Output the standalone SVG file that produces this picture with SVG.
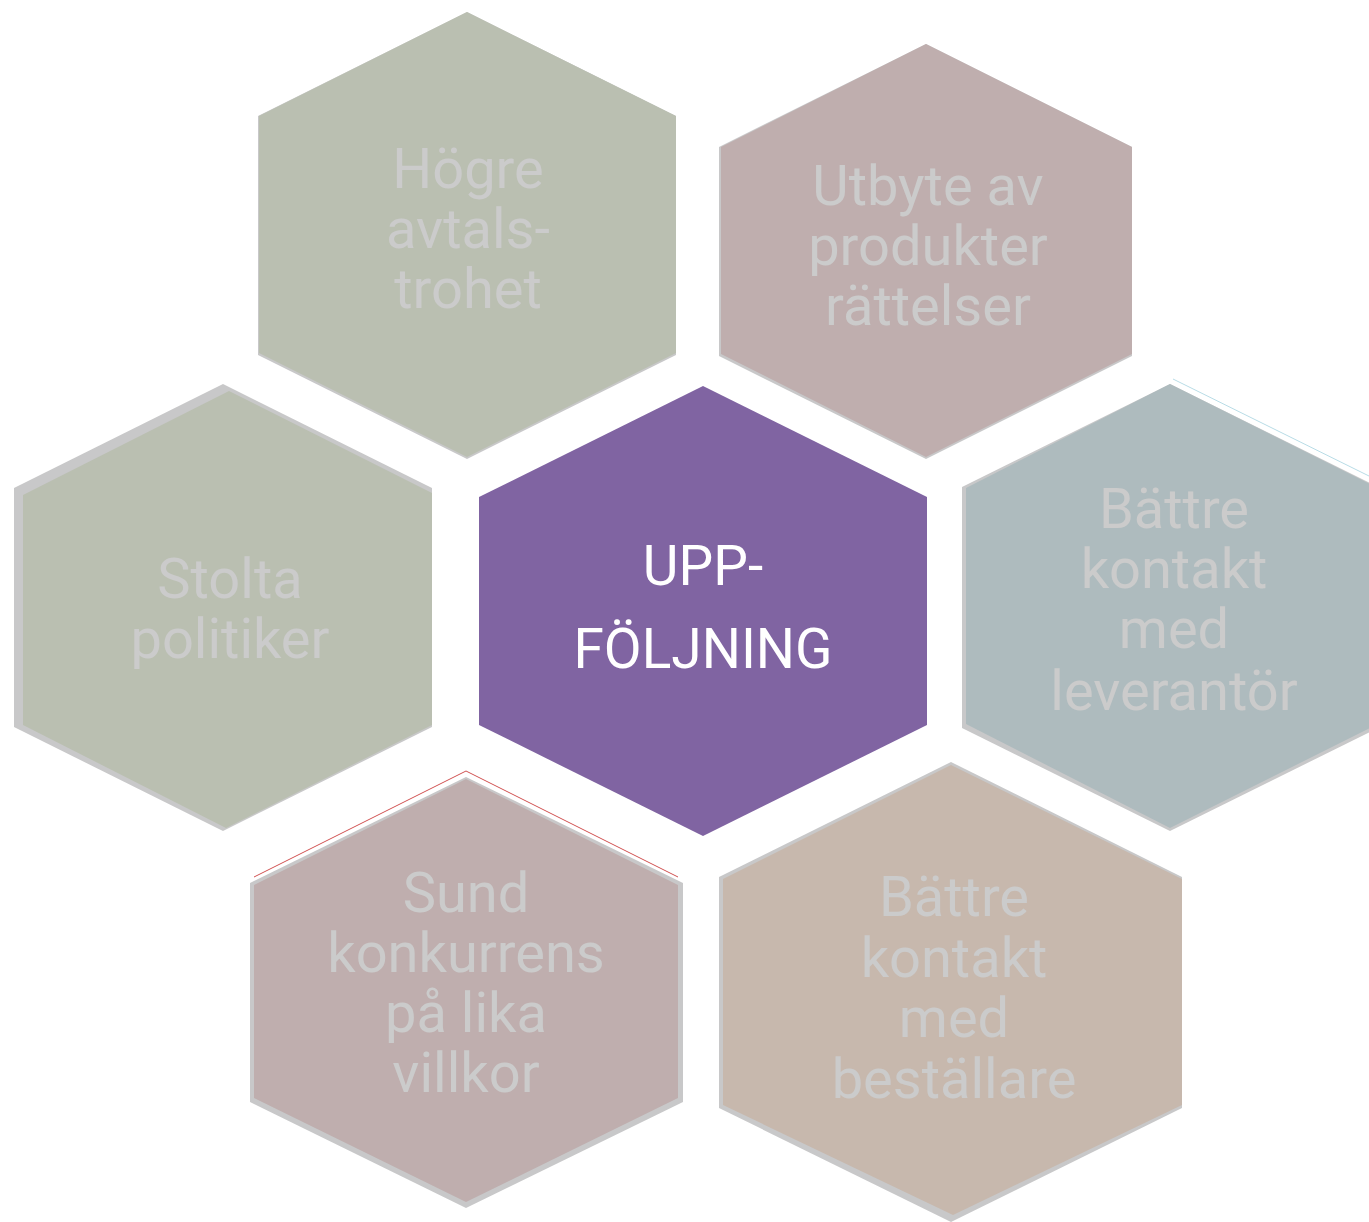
<svg xmlns="http://www.w3.org/2000/svg" width="1369" height="1222" viewBox="0 0 1369 1222">
<style>
.rim{fill:#c8c8c9}
.lbl{font-family:Roboto,"Liberation Sans",sans-serif;font-size:56px;fill:#cbcbcb;text-anchor:middle}
.ctr{font-family:Roboto,"Liberation Sans",sans-serif;font-size:55px;fill:#ffffff;text-anchor:middle}
</style>
<rect width="1369" height="1222" fill="#ffffff"/>
<g id="connectors">
<polyline points="254,877 466,771 678,877" fill="none" stroke="#d05050" stroke-width="1"/>
<line x1="1173" y1="379" x2="1369" y2="476" stroke="#b8dce6" stroke-width="1"/>
</g>
<g id="node-hogre">
<polygon class="rim" points="467,12 676,116 676,355 467,459 258,355 258,116"/>
<polygon fill="#babfb1" points="467,12 676,116 676,353 467,457 259,353 259,116"/>
<text class="lbl" x="468" y="188">Högre</text>
<text class="lbl" x="468" y="248">avtals-</text>
<text class="lbl" x="468" y="308">trohet</text>
</g>
<g id="node-utbyte">
<polygon class="rim" points="926,44 1132,147 1132,356 926,459 719,356 719,147"/>
<polygon fill="#bfaeae" points="926,44 1132,147 1132,354 926,457 721,354 721,147"/>
<text class="lbl" x="928" y="205">Utbyte av</text>
<text class="lbl" x="928" y="265">produkter</text>
<text class="lbl" x="928" y="325">rättelser</text>
</g>
<g id="node-stolta">
<polygon class="rim" points="223,384 432,488 432,727 223,831 14,727 14,488"/>
<polygon fill="#babfb1" points="229,391 432,493 432,725 226,828 23,725 23,495"/>
<text class="lbl" x="230" y="598">Stolta</text>
<text class="lbl" x="230" y="658">politiker</text>
</g>
<g id="node-center">
<polygon fill="#8064a2" points="703,386 927,497 927,725 703,836 479,725 479,497"/>
<text class="ctr" x="703" y="585">UPP-</text>
<text class="ctr" x="703" y="668">FÖLJNING</text>
</g>
<g id="node-leverantor">
<polygon class="rim" points="1170,384 1378,487 1378,728 1170,831 962,728 962,487"/>
<polygon fill="#aebbbe" points="1170,384 1378,488 1378,724 1170,828 966,724 966,488"/>
<text class="lbl" x="1174" y="528">Bättre</text>
<text class="lbl" x="1174" y="588">kontakt</text>
<text class="lbl" x="1174" y="648">med</text>
<text class="lbl" x="1174" y="710">leverantör</text>
</g>
<g id="node-sund">
<polygon class="rim" points="466,777 683,883 683,1102 466,1208 250,1102 250,883"/>
<polygon fill="#bfaeae" points="466,779 678,885 678,1098 466,1202 254,1098 254,885"/>
<text class="lbl" x="466" y="912">Sund</text>
<text class="lbl" x="466" y="972">konkurrens</text>
<text class="lbl" x="466" y="1032">på lika</text>
<text class="lbl" x="466" y="1092">villkor</text>
</g>
<g id="node-bestallare">
<polygon class="rim" points="951,762 1182,877 1182,1108 951,1222 719,1108 719,877"/>
<polygon fill="#c7b8ad" points="951,765 1182,879 1182,1105 953,1215 723,1105 723,879"/>
<text class="lbl" x="954" y="916">Bättre</text>
<text class="lbl" x="954" y="977">kontakt</text>
<text class="lbl" x="954" y="1037">med</text>
<text class="lbl" x="954" y="1098">beställare</text>
</g>
</svg>
